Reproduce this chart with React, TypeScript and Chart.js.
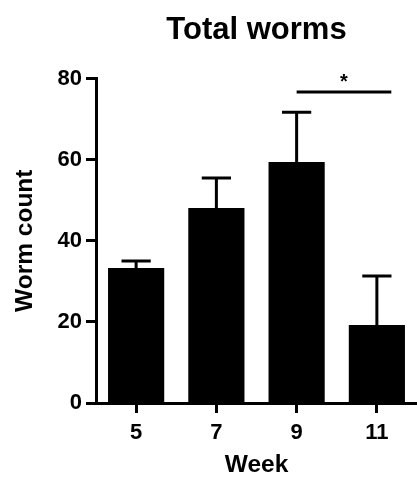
import React, { useEffect, useRef } from "react";
import { Chart, registerables } from "chart.js";

Chart.register(...registerables);

const weeks = ["5", "7", "9", "11"];
const wormMeans = [33.3, 48.1, 59.4, 19.2];
const wormSem = [1.7, 7.4, 12.3, 12.1];
const yTicks = [0, 20, 40, 60, 80];
const sigFrom = "9";
const sigTo = "11";
const sigLevel = 76.7;
const sigLabel = "*";

const FONT = "'Liberation Sans', Arial, Helvetica, sans-serif";

const errorBarPlugin = {
  id: "errorBars",
  afterDatasetsDraw(chart: any) {
    const { ctx } = chart;
    const meta = chart.getDatasetMeta(0);
    const yScale = chart.scales.y;
    ctx.save();
    ctx.strokeStyle = "#000";
    ctx.lineWidth = 3;
    meta.data.forEach((bar: any, i: number) => {
      const top = yScale.getPixelForValue(wormMeans[i]);
      const capY = yScale.getPixelForValue(wormMeans[i] + wormSem[i]);
      const half = bar.width * 0.26;
      ctx.beginPath();
      ctx.moveTo(bar.x, top);
      ctx.lineTo(bar.x, capY);
      ctx.moveTo(bar.x - half, capY);
      ctx.lineTo(bar.x + half, capY);
      ctx.stroke();
    });
    ctx.restore();
  },
};

const sigPlugin = {
  id: "sigBracket",
  afterDraw(chart: any) {
    const { ctx } = chart;
    const xScale = chart.scales.x;
    const yScale = chart.scales.y;
    const i1 = weeks.indexOf(sigFrom);
    const i2 = weeks.indexOf(sigTo);
    const step = xScale.getPixelForValue(1) - xScale.getPixelForValue(0);
    const x1 = xScale.getPixelForValue(i1);
    const x2 = xScale.getPixelForValue(i2) + step * 0.18;
    const y = yScale.getPixelForValue(sigLevel);
    ctx.save();
    ctx.strokeStyle = "#000";
    ctx.lineWidth = 3;
    ctx.beginPath();
    ctx.moveTo(x1, y);
    ctx.lineTo(x2, y);
    ctx.stroke();
    ctx.fillStyle = "#000";
    ctx.font = `bold 20px ${FONT}`;
    ctx.textAlign = "center";
    ctx.textBaseline = "alphabetic";
    ctx.fillText(sigLabel, (x1 + x2) / 2, y - 4);
    ctx.restore();
  },
};

export default function App() {
  const ref = useRef<HTMLCanvasElement | null>(null);

  useEffect(() => {
    if (!ref.current) return;
    const chart = new Chart(ref.current, {
      type: "bar",
      data: {
        labels: weeks,
        datasets: [
          {
            data: wormMeans,
            backgroundColor: "#000",
            borderWidth: 0,
            barPercentage: 0.7,
            categoryPercentage: 1,
          },
        ],
      },
      options: {
        responsive: false,
        animation: false,
        devicePixelRatio: 1,
        layout: { padding: 0 },
        plugins: {
          legend: { display: false },
          tooltip: { enabled: false },
          title: {
            display: true,
            fullSize: false,
            text: "Total worms",
            color: "#000",
            font: { family: FONT, size: 31, weight: "bold" },
            padding: { top: 11.4, bottom: 29.9 },
          },
        },
        scales: {
          x: {
            grid: {
              display: true,
              drawOnChartArea: false,
              drawTicks: true,
              offset: false,
              tickLength: 10,
              tickWidth: 3,
              tickColor: "#000",
            },
            border: { display: true, color: "#000", width: 3 },
            ticks: {
              color: "#000",
              padding: 7,
              font: { family: FONT, size: 22, weight: "bold" },
            },
            title: {
              display: true,
              text: "Week",
              color: "#000",
              font: { family: FONT, size: 24.5, weight: "bold" },
              padding: { top: 0, bottom: 0.8 },
            },
            afterFit(scale: any) {
              scale.height = 78;
            },
          },
          y: {
            min: 0,
            max: 80,
            afterBuildTicks(scale: any) {
              scale.ticks = yTicks.map((v) => ({ value: v }));
            },
            grid: {
              display: true,
              drawOnChartArea: false,
              drawTicks: true,
              tickLength: 10,
              tickWidth: 3,
              tickColor: "#000",
            },
            border: { display: true, color: "#000", width: 3 },
            ticks: {
              color: "#000",
              padding: 4,
              font: { family: FONT, size: 22, weight: "bold" },
            },
            title: {
              display: true,
              text: "Worm count",
              color: "#000",
              font: { family: FONT, size: 24.5, weight: "bold" },
              padding: { top: 10.7, bottom: 0 },
            },
            afterFit(scale: any) {
              scale.width = 96;
            },
          },
        },
      },
      plugins: [errorBarPlugin, sigPlugin],
    });
    return () => chart.destroy();
  }, []);

  return (
    <div style={{ position: "absolute", left: 0, top: 0, width: 417, height: 481, background: "#fff" }}>
      <canvas ref={ref} width={417} height={481} style={{ display: "block" }} />
    </div>
  );
}
